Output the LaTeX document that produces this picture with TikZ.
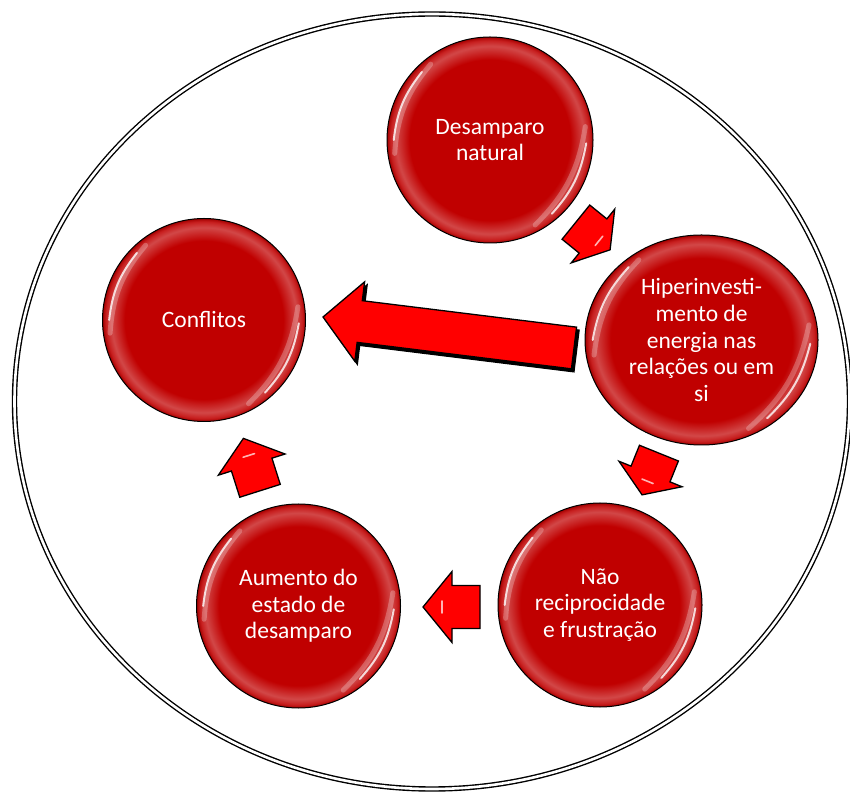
\documentclass[tikz,border=0pt]{standalone}
\usepackage{fontspec}
\setmainfont{Carlito}
\usetikzlibrary{shapes.geometric,calc}

\definecolor{bubblered}{RGB}{192,0,0}
\definecolor{arrowred}{RGB}{255,0,0}

% dark red disc with a lighter bevel ring just inside the rim
\pgfdeclareradialshading{bubblerim}{\pgfpoint{0bp}{0bp}}{%
  color(0bp)=(bubblered); color(19.5bp)=(bubblered);
  color(22.8bp)=(bubblered!72!white); color(24.2bp)=(bubblered!88!white);
  color(25bp)=(bubblered!85!black); color(50bp)=(bubblered)}

\tikzset{
  bubble/.style={ellipse, draw=black, line width=1pt, shading=bubblerim,
    text=white, align=center, inner sep=0pt,
    font=\fontsize{23.5}{26.6}\selectfont},
  gleam/.style={white, line width=2pt, line cap=round, opacity=0.8},
  softgleam/.style={white, line width=5pt, line cap=round, opacity=0.25},
  arrowbody/.style={fill=arrowred, draw=black, line width=1.3pt, line join=miter},
  arrowshadow/.style={fill=black, draw=black, line width=1.3pt},
  frame/.style={draw=black, line width=1.4pt, double=white, double distance=2.6pt}
}

% block arrow: centre x, centre y, direction, length, head length, shaft width, head width
\newcommand\blockarrow[8][arrowbody]{%
  \begin{scope}[shift={(#2,#3)}, rotate=#4]
    \path[#1] ({-(#5)/2},{(#7)/2}) -- ({(#5)/2-(#6)},{(#7)/2})
      -- ({(#5)/2-(#6)},{(#8)/2}) -- ({(#5)/2},0)
      -- ({(#5)/2-(#6)},{-(#8)/2}) -- ({(#5)/2-(#6)},{-(#7)/2})
      -- ({-(#5)/2},{-(#7)/2}) -- cycle;
  \end{scope}}

% small specular streak inside the head of a block arrow
\newcommand\arrowgleam[5]{%
  \begin{scope}[shift={(#1,#2)}, rotate=#3]
    \draw[white, line width=1.6pt, line cap=round, opacity=0.7]
      ({(#4)/2-0.65*(#5)},-6) -- ({(#4)/2-0.65*(#5)},6);
  \end{scope}}

% white reflections along the rim of a bubble
\newcommand\bubblegleam[1]{%
  \draw[softgleam] ($(#1.center)!0.93!(#1.128)$) to[bend right=18] ($(#1.center)!0.93!(#1.188)$);
  \draw[gleam] ($(#1.center)!0.93!(#1.135)$) to[bend right=16] ($(#1.center)!0.93!(#1.180)$);
  \draw[softgleam] ($(#1.center)!0.93!(#1.-62)$) to[bend right=18] ($(#1.center)!0.93!(#1.8)$);
  \draw[gleam] ($(#1.center)!0.93!(#1.-50)$) to[bend right=16] ($(#1.center)!0.93!(#1.-2)$);}

\begin{document}
\begin{tikzpicture}[x=1pt, y=1pt]
  \useasboundingbox (0,0) rectangle (850,792);
  \fill[white] (0,0) rectangle (850,792);

  % outer double frame
  \draw[frame] (432,390.5) ellipse [x radius=417.5, y radius=387.5];

  % the five stages
  \node[bubble, minimum width=206pt, minimum height=206pt] (desamparo) at (490,652)
    {Desamparo\\natural};
  \node[bubble, minimum width=233pt, minimum height=210pt] (hiper) at (701.5,452)
    {Hiperinvesti-\\mento de\\energia nas\\relações ou em\\si};
  \node[bubble, minimum width=204pt, minimum height=204pt] (nao) at (600,187)
    {Não\\reciprocidade\\e frustração};
  \node[bubble, minimum width=204pt, minimum height=204pt] (aumento) at (298.5,186)
    {Aumento do\\estado de\\desamparo};
  \node[bubble, minimum width=203pt, minimum height=203pt] (conflitos) at (204,472)
    {Conflitos};

  \bubblegleam{desamparo}
  \bubblegleam{hiper}
  \bubblegleam{nao}
  \bubblegleam{aumento}
  \bubblegleam{conflitos}

  % cycle arrows
  \blockarrow{593}{556}{-39}{44}{22}{44}{69}
  \arrowgleam{593}{556}{-39}{44}{22}
  \blockarrow{650.5}{318}{-112}{45}{22.5}{42}{68}
  \arrowgleam{650.5}{318}{-112}{45}{22.5}
  \blockarrow{451.5}{185}{180}{57}{29}{43}{71}
  \arrowgleam{451.5}{185}{180}{57}{29}
  \blockarrow{251.7}{327.4}{107.6}{55}{27.5}{42.5}{70}
  \arrowgleam{251.7}{327.4}{107.6}{55}{27.5}

  % large arrow from Hiperinvestimento to Conflitos
  \begin{scope}[shift={(2.5,-3)}]
    \blockarrow[arrowshadow]{448.5}{459.5}{172.96}{252.9}{37}{42}{80}
  \end{scope}
  \blockarrow{448.5}{459.5}{172.96}{252.9}{37}{42}{80}
\end{tikzpicture}
\end{document}
